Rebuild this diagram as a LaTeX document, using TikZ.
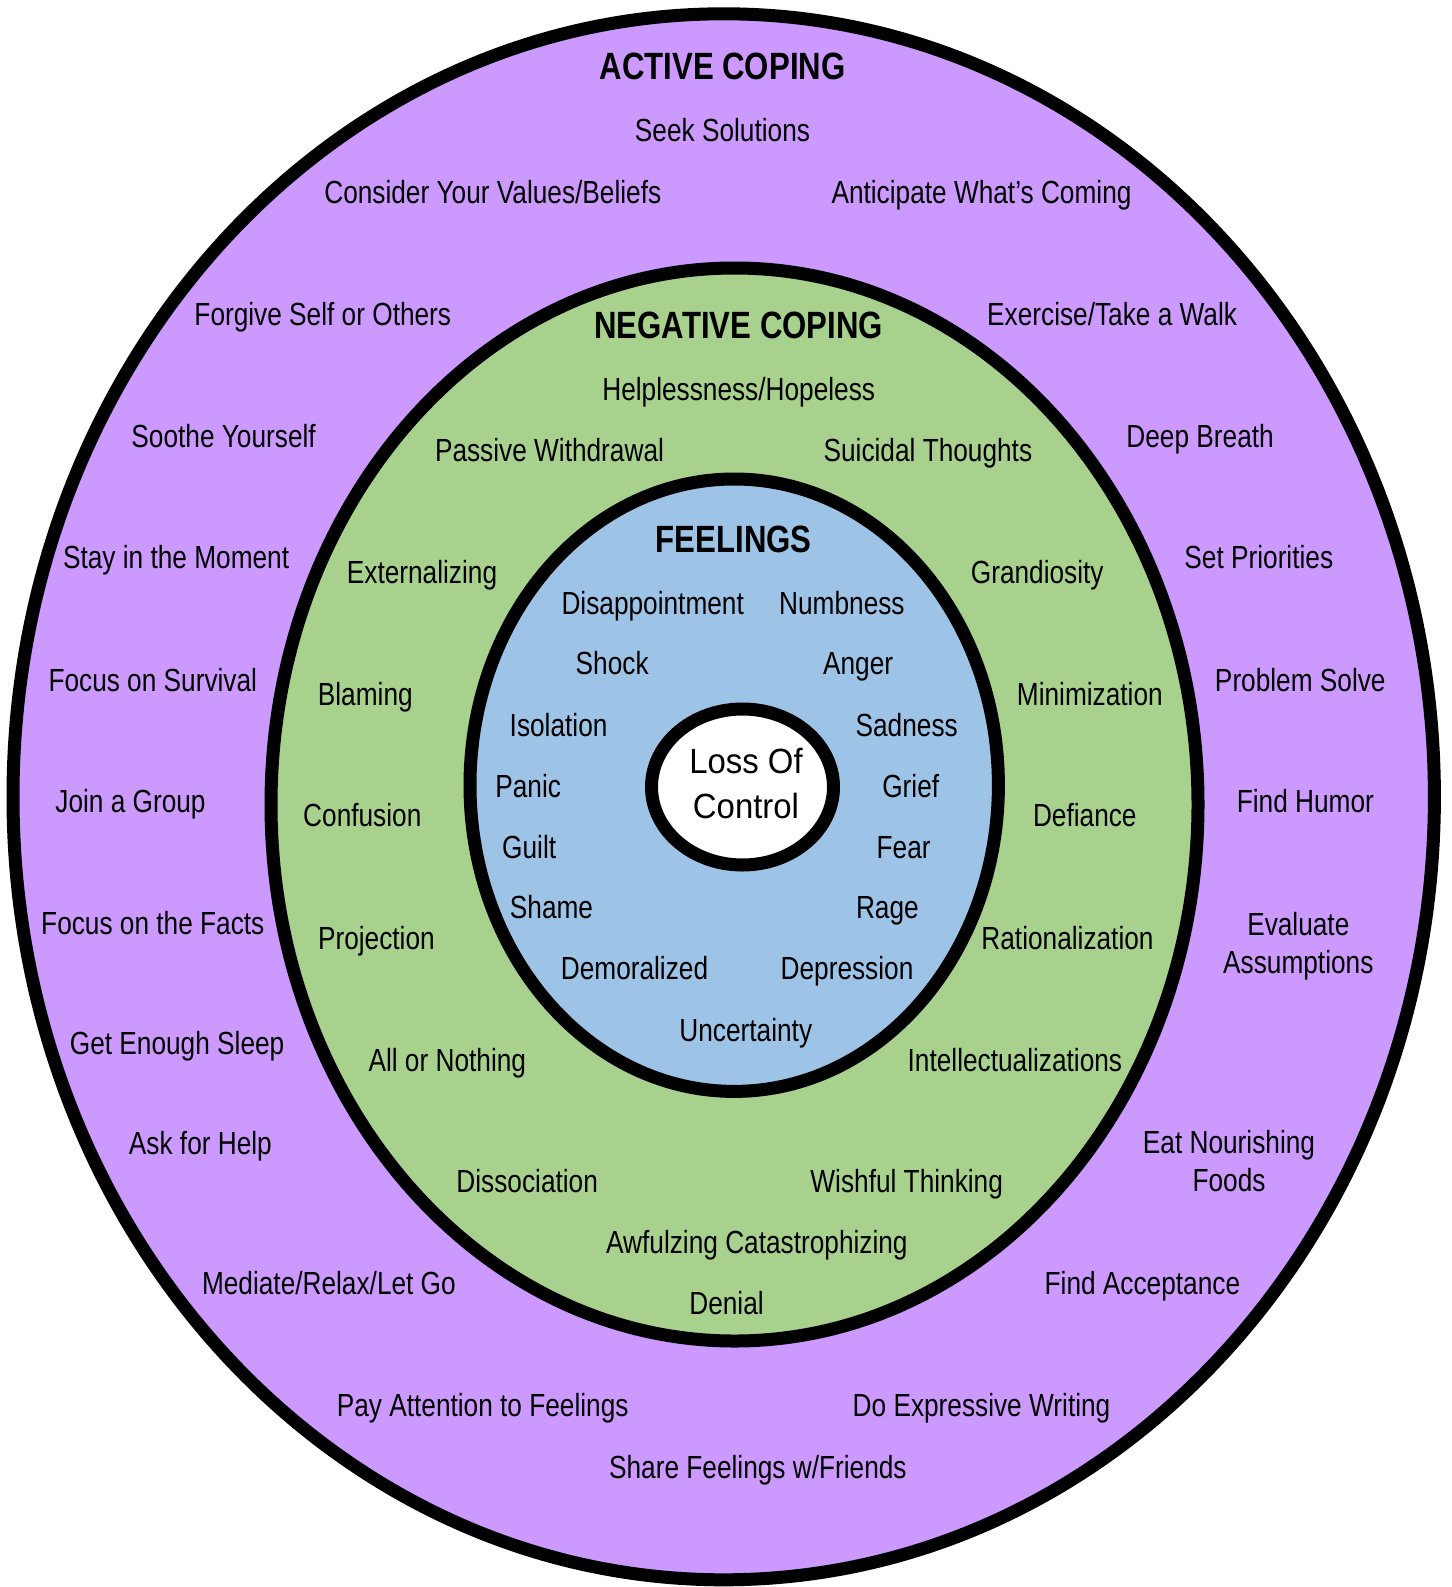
\documentclass[tikz,border=0pt]{standalone}
\usepackage{fontspec}
\setmainfont{Liberation Sans}[FakeStretch=0.82]
\newfontfamily\centrefont{Liberation Sans}[FakeStretch=0.94]
\usepackage{xcolor}
\usepackage{tikz}

\definecolor{activepurple}{HTML}{CC99FF}
\definecolor{negativegreen}{HTML}{A9D18E}
\definecolor{feelingblue}{HTML}{9DC3E6}

\tikzset{
  ring/.style={draw=black, line width=13pt},
  item/.style={font=\fontsize{32}{38}\selectfont, anchor=base, inner sep=0pt},
  heading/.style={font=\fontsize{38}{44}\selectfont\bfseries, anchor=base, inner sep=0pt}
}

\begin{document}
\begin{tikzpicture}[x=1pt, y=-1pt]
  \useasboundingbox (0,0) rectangle (1451,1587);

  % Rings
  \filldraw[ring, fill=activepurple] (723.7,796.8) ellipse [x radius=710.7pt, y radius=783pt];
  \filldraw[ring, fill=negativegreen] (734.5,804.5) ellipse [x radius=463.5pt, y radius=536.5pt];
  \filldraw[ring, fill=feelingblue] (734.2,785.2) ellipse [x radius=264.2pt, y radius=306.2pt];
  \filldraw[ring, fill=white] (742.5,787) ellipse [x radius=91pt, y radius=78pt];

  % Centre
  \node[anchor=base, inner sep=0pt, align=center, font=\centrefont\fontsize{35}{45}\selectfont] (loss) at (746,818.3) {Loss Of\\Control};

  % Active coping
  \node[heading] (active) at (722.5,80) {ACTIVE COPING};
  \node[item] (seek) at (722.5,141.7) {Seek Solutions};
  \node[item] (values) at (492.8,203.3) {Consider Your Values/Beliefs};
  \node[item] (anticipate) at (981.5,203.3) {Anticipate What’s Coming};
  \node[item] (forgive) at (322.8,325.7) {Forgive Self or Others};
  \node[item] (exercise) at (1112.1,325.7) {Exercise/Take a Walk};
  \node[item] (soothe) at (223.6,447.1) {Soothe Yourself};
  \node[item] (breath) at (1200.1,447.1) {Deep Breath};
  \node[item] (moment) at (176.1,568.6) {Stay in the Moment};
  \node[item] (priorities) at (1258.8,568.6) {Set Priorities};
  \node[item] (survival) at (152.8,691) {Focus on Survival};
  \node[item] (solve) at (1300.3,691) {Problem Solve};
  \node[item] (group) at (130.5,812.4) {Join a Group};
  \node[item] (humor) at (1305.4,812.4) {Find Humor};
  \node[item] (facts) at (152.8,934.9) {Focus on the Facts};
  \node[item, align=center] (evaluate) at (1298.3,973) {Evaluate\\Assumptions};
  \node[item] (sleep) at (177.1,1054.3) {Get Enough Sleep};
  \node[item] (help) at (200.4,1154.4) {Ask for Help};
  \node[item, align=center] (foods) at (1229,1191.7) {Eat Nourishing\\Foods};
  \node[item] (mediate) at (328.9,1294.1) {Mediate/Relax/Let Go};
  \node[item] (acceptance) at (1142.4,1294.1) {Find Acceptance};
  \node[item] (attention) at (482.7,1416.5) {Pay Attention to Feelings};
  \node[item] (writing) at (981.5,1416.5) {Do Expressive Writing};
  \node[item] (share) at (757.9,1478.3) {Share Feelings w/Friends};

  % Negative coping
  \node[heading] (negative) at (738.7,338) {NEGATIVE COPING};
  \node[item] (hopeless) at (738.7,400.6) {Helplessness/Hopeless};
  \node[item] (withdrawal) at (549.5,461.3) {Passive Withdrawal};
  \node[item] (suicidal) at (927.9,461.3) {Suicidal Thoughts};
  \node[item] (externalizing) at (422,583.7) {Externalizing};
  \node[item] (grandiosity) at (1037.2,583.7) {Grandiosity};
  \node[item] (blaming) at (365.3,705.2) {Blaming};
  \node[item] (minimization) at (1089.8,705.2) {Minimization};
  \node[item] (confusion) at (362.3,826.6) {Confusion};
  \node[item] (defiance) at (1084.8,826.6) {Defiance};
  \node[item] (projection) at (376.4,949) {Projection};
  \node[item] (rationalization) at (1067.5,949) {Rationalization};
  \node[item] (allnothing) at (447.3,1071.5) {All or Nothing};
  \node[item] (intellect) at (1014.9,1071.5) {Intellectualizations};
  \node[item] (dissociation) at (527.2,1192.9) {Dissociation};
  \node[item] (wishful) at (906.7,1192.9) {Wishful Thinking};
  \node[item] (awful) at (756.9,1253.6) {Awfulzing Catastrophizing};
  \node[item] (denial) at (726.5,1314.3) {Denial};

  % Feelings
  \node[heading] (feelings) at (733.6,552.5) {FEELINGS};
  \node[item] (disappoint) at (652.7,614.1) {Disappointment};
  \node[item] (numb) at (841.9,614.1) {Numbness};
  \node[item] (shock) at (612.2,674.8) {Shock};
  \node[item] (anger) at (858.1,674.8) {Anger};
  \node[item] (isolation) at (558.6,736.5) {Isolation};
  \node[item] (sadness) at (906.7,736.5) {Sadness};
  \node[item] (panic) at (528.2,797.2) {Panic};
  \node[item] (grief) at (910.7,797.2) {Grief};
  \node[item] (guilt) at (529.2,858) {Guilt};
  \node[item] (fear) at (903.6,858) {Fear};
  \node[item] (shame) at (551.5,918.7) {Shame};
  \node[item] (rage) at (887.4,918.7) {Rage};
  \node[item] (demoral) at (634.5,979.4) {Demoralized};
  \node[item] (depression) at (847,979.4) {Depression};
  \node[item] (uncertain) at (745.8,1041.1) {Uncertainty};
\end{tikzpicture}
\end{document}
